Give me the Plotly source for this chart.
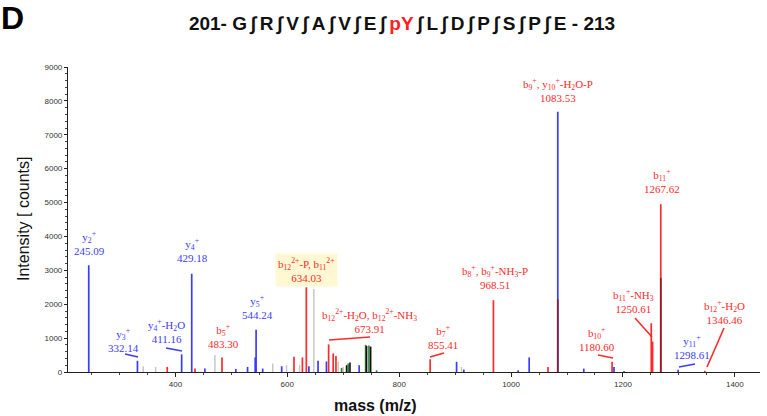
import plotly.graph_objects as go

# ---------------- data (m/z, intensity in counts) ----------------
blue_mz = [245.09, 332.14, 411.16, 429.18, 452.7, 508.0, 529.0, 542.6, 544.24, 556.0,
           590.0, 638.6, 655.0, 670.0, 728.5, 902.6, 915.6, 1012.7, 1032.4, 1083.53,
           1130.0, 1184.0, 1202.0, 1298.61]
blue_int = [3150, 330, 520, 2900, 100, 90, 150, 430, 1250, 100,
            170, 170, 330, 310, 200, 300, 70, 50, 430, 7680,
            100, 150, 30, 70]

red_mz = [385.4, 435.0, 483.30, 612.0, 627.0, 634.03, 673.91, 682.0, 687.0, 855.41,
          968.51, 1066.0, 1180.60, 1250.61, 1253.0, 1267.62, 1346.46]
red_int = [150, 100, 430, 450, 430, 2500, 815, 550, 470, 375,
           2120, 150, 300, 1440, 900, 4950, 40]

overlap_mz = [1083.53, 1267.62]
overlap_int = [2150, 2770]

grey_mz = [342.5, 364.6, 470.6, 574.0, 598.7, 622.0, 647.5, 691.0, 700.0, 911.5]
grey_int = [170, 150, 500, 250, 200, 200, 2450, 300, 150, 150]

green_mz = [697.0, 709.0, 740.0, 746.0, 759.6]
green_int = [120, 250, 800, 780, 50]

black_mz = [706.0, 712.0, 741.7, 749.0]
black_int = [200, 280, 770, 750]

# fragment labels
label_texts = [
    "y<sub>2</sub><sup>+</sup><br>245.09",
    "y<sub>3</sub><sup>+</sup><br>332.14",
    "y<sub>4</sub><sup>+</sup>-H<sub>2</sub>O<br>411.16",
    "y<sub>4</sub><sup>+</sup><br>429.18",
    "b<sub>5</sub><sup>+</sup><br>483.30",
    "y<sub>5</sub><sup>+</sup><br>544.24",
    "b<sub>12</sub><sup>2+</sup>-P, b<sub>11</sub><sup>2+</sup><br>634.03",
    "b<sub>12</sub><sup>2+</sup>-H<sub>2</sub>O, b<sub>12</sub><sup>2+</sup>-NH<sub>3</sub><br>673.91",
    "b<sub>7</sub><sup>+</sup><br>855.41",
    "b<sub>8</sub><sup>+</sup>, b<sub>9</sub><sup>+</sup>-NH<sub>3</sub>-P<br>968.51",
    "b<sub>9</sub><sup>+</sup>, y<sub>10</sub><sup>+</sup>-H<sub>2</sub>O-P<br>1083.53",
    "b<sub>11</sub><sup>+</sup><br>1267.62",
    "b<sub>11</sub><sup>+</sup>-NH<sub>3</sub><br>1250.61",
    "b<sub>10</sub><sup>+</sup><br>1180.60",
    "b<sub>12</sub><sup>+</sup>-H<sub>2</sub>O<br>1346.46",
    "y<sub>11</sub><sup>+</sup><br>1298.61",
]
label_kind = ["b", "b", "b", "b", "r", "b", "r", "r", "r", "r", "r", "r", "r", "r", "r", "b"]

x_ticks = [400, 600, 800, 1000, 1200, 1400]
y_ticks = [0, 1000, 2000, 3000, 4000, 5000, 6000, 7000, 8000, 9000]

# ---------------- layout helpers ----------------
W, H = 767, 416
L, R, T, B = 68, 7, 67, 44
X0, X1 = 208, 1445
Y0, Y1 = 0, 9000
PW, PH = W - L - R, H - T - B


def px2x(px):
    return X0 + (px - L) / PW * (X1 - X0)


def py2y(py):
    return Y0 + (T + PH - py) / PH * (Y1 - Y0)


BLUE = "#3b3bff"
RED = "#ff2a2a"
COL = {"b": BLUE, "r": RED}

# label centres in pixels
label_pos = [(89, 243), (123, 340), (166, 331), (192, 250), (223, 336), (257, 307),
             (306, 270), (369, 321), (443, 337), (495, 277), (558, 90), (662, 181),
             (633, 301), (597, 339), (724, 312), (692, 347)]
# leader lines (pixels) and colour kind
leaders = [((125, 354), (138, 357), "b"), ((166, 348), (182, 351), "b"),
           ((329, 340), (370, 337), "r"), ((430, 357), (444, 353), "r"),
           ((635, 318), (652, 337), "r"), ((598, 355), (613, 358), "r"),
           ((724, 328), (707, 367), "r"), ((679, 367), (695, 364), "b")]


def sticks(mz, inten):
    xs, ys = [], []
    for m, h in zip(mz, inten):
        xs += [m, m, None]
        ys += [0, h, None]
    return xs, ys


fig = go.Figure()
for mz, inten, col, w in [(grey_mz, grey_int, "#c4c4c4", 1.4),
                          (green_mz, green_int, "#2e7d32", 1.6),
                          (black_mz, black_int, "#111111", 1.6),
                          (blue_mz, blue_int, BLUE, 1.7),
                          (red_mz, red_int, RED, 1.7),
                          (overlap_mz, overlap_int, "#8a1c2c", 1.7)]:
    xs, ys = sticks(mz, inten)
    fig.add_trace(go.Scatter(x=xs, y=ys, mode="lines", line=dict(color=col, width=w),
                             hoverinfo="skip", showlegend=False))

ann = []
for i, (txt, kind) in enumerate(zip(label_texts, label_kind)):
    cx, cy = label_pos[i]
    a = dict(x=px2x(cx), y=py2y(cy), xref="x", yref="y", text=txt, showarrow=False,
             xanchor="center", yanchor="middle",
             font=dict(family="Liberation Serif, Times New Roman, serif", size=11, color=COL[kind]))
    if i == 6:
        a["bgcolor"] = "#fff8d2"
        a["borderpad"] = 2
    ann.append(a)

# panel letter and axis titles
ann.append(dict(x=(0 - L) / PW, y=(T + PH - 18) / PH, xref="paper", yref="paper",
                text="<b>D</b>", showarrow=False, xanchor="left", yanchor="middle",
                borderpad=0, font=dict(family="Liberation Sans, Arial", size=32, color="black")))
ann.append(dict(x=(23 - L) / PW, y=(T + PH - 219) / PH, xref="paper", yref="paper",
                text="Intensity [ counts]", showarrow=False, textangle=-90,
                xanchor="center", yanchor="middle",
                font=dict(family="Liberation Sans, Arial", size=16, color="#111")))
ann.append(dict(x=(375 - L) / PW, y=(T + PH - 405) / PH, xref="paper", yref="paper",
                text="<b>mass (m/z)</b>", showarrow=False,
                xanchor="center", yanchor="middle",
                font=dict(family="Liberation Sans, Arial", size=16, color="#111")))

shapes = []
for (p0, p1, kind) in leaders:
    shapes.append(dict(type="line", xref="x", yref="y",
                       x0=px2x(p0[0]), y0=py2y(p0[1]), x1=px2x(p1[0]), y1=py2y(p1[1]),
                       line=dict(color=COL[kind], width=1.6)))

sep = "\u2009\u222b\u2009"
residues = ["G", "R", "V", "A", "V", "E", "<span style='color:#ff2020'>pY</span>",
            "L", "D", "P", "S", "P", "E"]
title_txt = "<b>201- " + sep.join(residues) + " - 213</b>"

fig.update_layout(
    width=W, height=H,
    margin=dict(l=L, r=R, t=T, b=B, autoexpand=False),
    paper_bgcolor="white", plot_bgcolor="white",
    title=dict(text=title_txt, x=402 / W, xanchor="center", xref="container",
               y=1 - 23 / H, yanchor="middle", yref="container",
               font=dict(family="Liberation Sans, Arial", size=19, color="#111")),
    xaxis=dict(range=[X0, X1], showgrid=False, zeroline=False, showline=True,
               linecolor="#222", linewidth=1.2, ticks="outside", ticklen=4, tickwidth=1,
               tickcolor="#222", tickvals=x_ticks, ticktext=[str(v) for v in x_ticks],
               tickfont=dict(family="Liberation Sans, Arial", size=8, color="#333"),
               minor=dict(dtick=50, tick0=0, ticks="outside", ticklen=2, tickcolor="#444")),
    yaxis=dict(range=[Y0, Y1], showgrid=False, zeroline=False, showline=True,
               linecolor="#222", linewidth=1.2, ticks="outside", ticklen=3, tickwidth=1,
               tickcolor="#222", tickvals=y_ticks, ticktext=[str(v) for v in y_ticks],
               tickfont=dict(family="Liberation Sans, Arial", size=8, color="#333"),
               minor=dict(dtick=200, tick0=0, ticks="outside", ticklen=2, tickcolor="#444")),
    annotations=ann, shapes=shapes,
)

fig.write_html("out.html", config={"displayModeBar": False},
               post_script="document.body.style.margin='0';document.body.style.padding='0';")
